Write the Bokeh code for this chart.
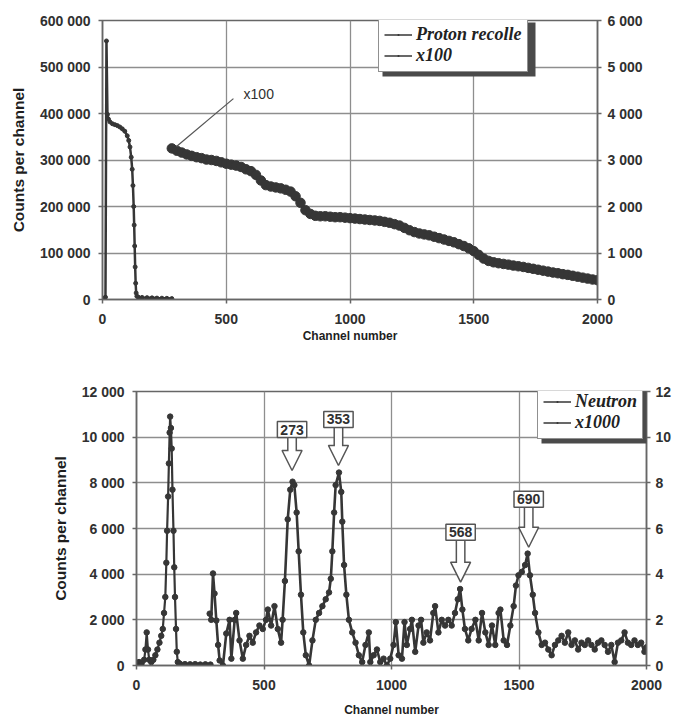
from bokeh.plotting import figure
from bokeh.models import (Range1d, LinearAxis, FixedTicker, CustomJSTickFormatter,
                          Legend, LegendItem, Label, Arrow, NormalHead, BoxAnnotation)
from bokeh.layouts import column, row
from bokeh.embed import file_html
from bokeh.resources import INLINE

# ---------------- data: top chart (proton recoil spectrum) ----------------
proton_ch = [0, 4, 8, 12, 16, 20, 24, 30, 40, 50, 60, 70, 80, 90, 100, 106, 111, 116,
             120, 123, 126, 128, 130, 132, 134, 136, 139, 145, 160, 180, 200, 220, 240,
             260, 280]
proton_counts = [3000, 2000, 3000, 5000, 556000, 398000, 388000, 382000, 378000, 376000,
                 374000, 371000, 367000, 362000, 352000, 342000, 328000, 306000, 280000,
                 245000, 200000, 160000, 115000, 70000, 35000, 14000, 7000, 5000, 4500,
                 4000, 3500, 3000, 2800, 2500, 2000]

x100_ch = list(range(280, 2001, 20))
x100_counts = [3250, 3200, 3160, 3120, 3090, 3060, 3040, 3010, 3000, 2980,
               2950, 2920, 2900, 2880, 2850, 2800, 2760, 2680, 2560, 2460,
               2430, 2410, 2390, 2360, 2320, 2220, 2080, 1920, 1840, 1800,
               1790, 1790, 1780, 1770, 1770, 1760, 1750, 1740, 1730, 1720,
               1710, 1700, 1690, 1670, 1650, 1620, 1590, 1540, 1490, 1450,
               1420, 1400, 1380, 1350, 1320, 1290, 1260, 1230, 1190, 1150,
               1100, 1040, 960, 880, 830, 800, 780, 765, 750, 730,
               715, 700, 680, 660, 640, 620, 600, 580, 565, 545,
               530, 510, 490, 470, 450, 430, 415]

# ---------------- data: bottom chart (neutron spectrum) ----------------
neutron_ch = [0, 10, 20, 30, 35, 40, 45, 50, 58, 66, 74, 82, 90, 97, 103, 108, 113, 117,
              120, 124, 127, 130, 132, 135, 138, 141, 145, 148, 151, 155, 158, 162, 170,
              190, 210, 230, 250, 270, 290]
neutron_counts = [100, 150, 100, 250, 700, 1450, 700, 250, 150, 250, 450, 700, 1000, 1300,
                  1600, 2300, 3000, 4500, 5900, 7400, 8850, 10200, 10900, 10400, 9500, 7700,
                  5900, 4300, 3000, 1600, 600, 150, 80, 60, 50, 60, 40, 50, 40]

x1000_ch = [287, 293, 300, 306, 313, 320, 326, 339, 352, 365, 372, 385, 391, 404, 417, 430,
            443, 456, 469, 482, 495, 508, 515, 528, 541, 554, 567, 573, 582, 593, 603, 612,
            619, 628, 636, 645, 654, 664, 677,
            690, 703, 716, 729, 742, 755, 762, 768, 775, 781, 794, 803, 807, 814, 823, 833,
            846, 859, 872, 885, 898, 911, 917, 930, 943, 956, 969, 982, 995, 1008, 1017,
            1028, 1041, 1051, 1060, 1073, 1080, 1093, 1106, 1116, 1125, 1138, 1151, 1164,
            1171, 1184, 1197, 1210, 1223, 1236, 1249, 1260, 1269, 1278, 1288, 1301, 1314,
            1329, 1342, 1355, 1368, 1381, 1394, 1407, 1420, 1427, 1440, 1453, 1466, 1479,
            1488, 1498, 1511, 1524, 1534, 1543, 1554, 1563, 1576, 1589, 1602, 1615, 1628,
            1641, 1654, 1667, 1680, 1693, 1706, 1719, 1732, 1745, 1758, 1771, 1784, 1797,
            1810, 1823, 1836, 1849, 1862, 1875, 1888, 1901, 1914, 1927, 1940, 1953, 1966,
            1979, 1992, 2000]
x1000_counts = [2.27, 2.0, 4.03, 3.15, 1.97, 0.9, 0.22, 0.0, 1.4, 2.0, 0.3, 2.0, 2.3, 1.1,
                0.3, 0.9, 1.3, 1.0, 1.45, 1.75, 1.6, 2.0, 2.45, 1.75, 2.6, 1.6, 1.0, 2.0,
                3.7, 6.4, 7.7, 8.05, 7.9, 6.7, 5.0, 3.1, 1.45, 0.45, 0.0,
                1.1, 2.0, 2.3, 2.6, 2.9, 3.2, 3.8, 5.0, 6.7, 7.9, 8.45, 7.6, 6.3, 4.4, 3.1,
                2.0, 1.45, 1.0, 0.45, 0.15, 0.9, 1.45, 0.15, 0.45, 0.7, 0.15, 0.3, 0.0, 0.3,
                0.9, 1.9, 0.45, 0.3, 1.9, 0.9, 1.6, 2.0, 0.6, 1.75, 2.0, 1.0, 1.45, 1.1, 2.3,
                2.6, 1.45, 2.0, 1.75, 2.0, 1.75, 2.3, 2.9, 3.35, 2.45, 1.6, 1.1, 1.6,
                2.0, 1.1, 2.3, 1.45, 0.9, 1.75, 0.9, 2.3, 2.45, 1.1, 0.9, 1.75, 2.6, 3.5,
                3.95, 4.1, 4.4, 4.9, 3.95, 3.1, 2.3, 1.45, 0.9, 1.0, 0.7, 0.45, 0.9, 1.1,
                1.3, 1.0, 1.45, 0.9, 1.1, 0.7, 1.0, 0.9, 1.1, 0.9, 0.7, 1.0, 1.1, 0.9, 0.6,
                0.9, 0.15, 1.0, 1.1, 1.45, 1.0, 0.9, 1.1, 0.9, 1.0, 0.6, 0.8]

# peak callouts (energy label, channel of arrow tip, counts at arrow tip)
peak_labels = ["273", "353", "568", "690"]
peak_ch = [610, 792, 1271, 1538]
peak_counts = [8540, 8760, 3650, 5180]

x_ticks = [0, 500, 1000, 1500, 2000]
top_left_ticks = [0, 100000, 200000, 300000, 400000, 500000, 600000]
top_right_ticks = [0, 1000, 2000, 3000, 4000, 5000, 6000]
bot_left_ticks = [0, 2000, 4000, 6000, 8000, 10000, 12000]
bot_right_ticks = [0, 2, 4, 6, 8, 10, 12]

# ---------------- styling ----------------
DARK = "#363636"
GRID = "#8e8e8e"
FRAME = "#666666"
TXT = "#303030"
NAN = float("nan")

FMT_SPACE = r"""
var s = Math.round(tick).toString();
return s.replace(/\B(?=(\d{3})+(?!\d))/g, ' ');
"""
FMT_PLAIN = "return Math.round(tick).toString();"


def style_axis(ax, ticks, fmt, title_size="12px", label_standoff=8, title_standoff=6):
    ax.ticker = FixedTicker(ticks=ticks)
    ax.formatter = CustomJSTickFormatter(code=fmt)
    ax.major_label_text_font = "Liberation Sans"
    ax.major_label_text_font_style = "bold"
    ax.major_label_text_font_size = "14px"
    ax.major_label_text_color = TXT
    ax.major_label_standoff = label_standoff
    ax.axis_line_color = FRAME
    ax.axis_line_width = 1.5
    ax.major_tick_line_color = FRAME
    ax.major_tick_line_width = 1.5
    ax.major_tick_in = 0
    ax.major_tick_out = 4
    ax.minor_tick_line_color = None
    ax.axis_label_text_font = "Liberation Sans"
    ax.axis_label_text_font_style = "bold"
    ax.axis_label_text_font_size = title_size
    ax.axis_label_text_color = "#1e1e1e"
    ax.axis_label_standoff = title_standoff


def base_fig(w, h, ymax, yrmax, ml, mr, mt, mb):
    p = figure(width=w, height=h,
               x_range=Range1d(0, 2000), y_range=Range1d(0, ymax),
               min_border_left=ml, min_border_right=mr,
               min_border_top=mt, min_border_bottom=mb,
               output_backend="svg", toolbar_location=None)
    p.extra_y_ranges = {"right": Range1d(0, yrmax)}
    p.background_fill_color = "white"
    p.border_fill_color = "white"
    p.outline_line_color = FRAME
    p.outline_line_width = 1.5
    p.grid.grid_line_color = GRID
    p.grid.grid_line_width = 1.3
    return p


def add_legend(p, entries, loc, box_w, box_h=54):
    # drop shadow (canvas pixels), drawn before the legend box
    fl = p.min_border_left
    fb = p.height - p.min_border_bottom  # frame bottom in canvas pixels
    left = fl + loc[0] + 4
    top = fb - loc[1] - box_h + 4
    p.add_layout(BoxAnnotation(left=left, right=left + box_w, top=top, bottom=top + box_h,
                               left_units="canvas", right_units="canvas",
                               top_units="canvas", bottom_units="canvas",
                               fill_color="#4a4a4a", fill_alpha=1, line_color=None,
                               level="annotation"))
    # legend swatches: thin line with a small dot, as in the original key
    items = []
    for lab, y_name in entries:
        kw = {} if y_name is None else {"y_range_name": y_name}
        rl = p.line([NAN], [NAN], color=DARK, line_width=1.5, **kw)
        rs = p.scatter([NAN], [NAN], marker="dot", size=5, color=DARK, line_width=4.5, **kw)
        items.append(LegendItem(label=lab, renderers=[rl, rs]))
    lg = Legend(items=items, location=loc)
    lg.padding = 5
    lg.spacing = 0
    lg.margin = 0
    lg.label_height = 21
    lg.glyph_height = 21
    lg.glyph_width = 28
    lg.label_standoff = 4
    lg.label_text_font = "Liberation Serif"
    lg.label_text_font_style = "bold italic"
    lg.label_text_font_size = "18px"
    lg.background_fill_color = "white"
    lg.background_fill_alpha = 1
    lg.border_line_color = "#222222"
    lg.border_line_width = 1.5
    lg.label_text_color = "#222222"
    p.add_layout(lg)


# ================= top chart =================
p1 = base_fig(660, 347, 600000, 6000, ml=102, mr=63, mt=20, mb=48)
rax1 = LinearAxis(y_range_name="right")
p1.add_layout(rax1, "right")
style_axis(p1.xaxis[0], x_ticks, FMT_PLAIN, title_size="12px", label_standoff=10, title_standoff=2)
p1.xaxis[0].axis_label = "Channel number"
style_axis(p1.yaxis[0], top_left_ticks, FMT_SPACE, title_size="15.5px", label_standoff=8,
           title_standoff=10)
p1.yaxis[0].axis_label = "Counts per channel"
style_axis(rax1, top_right_ticks, FMT_SPACE, label_standoff=6)

p1.line(proton_ch, proton_counts, color=DARK, line_width=2.5)
p1.scatter(proton_ch, proton_counts, size=4, color=DARK)
p1.line(x100_ch, x100_counts, y_range_name="right", color=DARK, line_width=4.5)
p1.scatter(x100_ch, x100_counts, y_range_name="right", size=9.5, color=DARK)

# "x100" callout
p1.add_layout(Arrow(end=None, x_start=529, y_start=432000, x_end=299, y_end=329000,
                    line_color="#555555", line_width=1.2))
p1.add_layout(Label(x=570, y=443000, text="x100", text_baseline="middle",
                    text_font="Liberation Sans", text_font_size="14px", text_color=TXT))

add_legend(p1, [("Proton recolle", None), ("x100", "right")], (276, 227), box_w=153)

# ================= bottom chart =================
p2 = base_fig(674, 374, 12000, 12, ml=136, mr=26, mt=44, mb=56)
rax2 = LinearAxis(y_range_name="right")
p2.add_layout(rax2, "right")
style_axis(p2.xaxis[0], x_ticks, FMT_PLAIN, title_size="12px", label_standoff=10,
           title_standoff=10)
p2.xaxis[0].axis_label = "Channel number"
style_axis(p2.yaxis[0], bot_left_ticks, FMT_SPACE, title_size="15.5px", label_standoff=8,
           title_standoff=10)
p2.yaxis[0].axis_label = "Counts per channel"
style_axis(rax2, bot_right_ticks, FMT_SPACE, label_standoff=5)

p2.line(neutron_ch, neutron_counts, color=DARK, line_width=2.2)
p2.scatter(neutron_ch, neutron_counts, size=5.5, color=DARK)
p2.line(x1000_ch, x1000_counts, y_range_name="right", color=DARK, line_width=2.6)
p2.scatter(x1000_ch, x1000_counts, y_range_name="right", size=5.5, color=DARK)

# block-arrow callouts
callout_len_px = [33, 38, 42, 40]
upp = 12000 / 274.0  # data units per screen pixel on the left axis
HEAD = 20
for lab, cx, cy, L in zip(peak_labels, peak_ch, peak_counts, callout_len_px):
    p2.add_layout(Arrow(end=None, x_start=cx, y_start=cy + L * upp, x_end=cx,
                        y_end=cy + (HEAD - 1) * upp, line_color="#555555", line_width=10))
    p2.add_layout(Arrow(end=NormalHead(size=HEAD, fill_color="white", line_color="#555555",
                                       line_width=1.5),
                        x_start=cx, y_start=cy + HEAD * upp, x_end=cx, y_end=cy,
                        line_alpha=0))
    p2.add_layout(Arrow(end=None, x_start=cx, y_start=cy + L * upp, x_end=cx,
                        y_end=cy + (HEAD - 2) * upp, line_color="white", line_width=7))
    p2.add_layout(Label(x=cx, y=cy, y_offset=L, text=lab, text_align="center",
                        text_baseline="bottom", text_font="Liberation Sans",
                        text_font_style="bold", text_font_size="14px", text_color=TXT,
                        padding=3, border_line_color="#555555", border_line_width=1.5,
                        background_fill_color="white"))

add_legend(p2, [("Neutron", None), ("x1000", "right")], (401, 226), box_w=108)

layout = column(row(p1), row(p2))
open("out.html", "w").write(file_html(layout, INLINE))
